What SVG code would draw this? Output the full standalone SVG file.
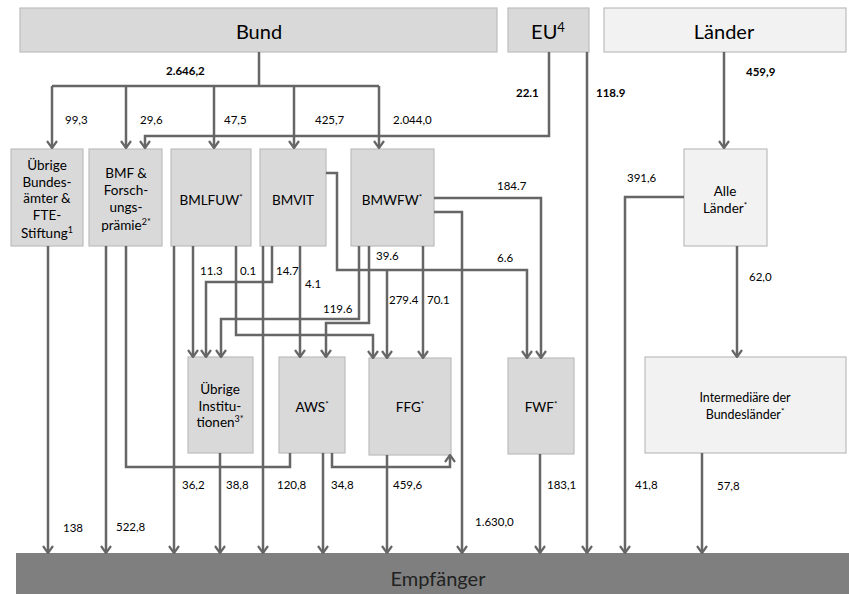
<svg xmlns="http://www.w3.org/2000/svg" width="849" height="594" viewBox="0 0 849 594">
<style>
.b{fill:#d9d9d9;stroke:#bdbdbd;stroke-width:1.2}
.l{fill:#f2f2f2;stroke:#bdbdbd;stroke-width:1.2}
.t{font-family:Lato,"Open Sans",sans-serif;fill:#000;text-anchor:middle}
.n{font-family:Lato,"Open Sans",sans-serif;font-size:11.5px;fill:#000}
.bold{font-weight:bold}
.c path{fill:none;stroke:#666;stroke-width:2.5}
.s{font-size:8px}
</style>
<defs>
<marker id="a" viewBox="-10 -7 11 14" markerWidth="11" markerHeight="14" refX="0" refY="0" orient="auto" markerUnits="userSpaceOnUse">
<path d="M-7,-5 L0,0 L-7,5" fill="none" stroke="#666" stroke-width="2.2"/>
</marker>
</defs>
<g id="bund"><rect class="b" x="20" y="8" width="477" height="44"/><text class="t" x="259" y="39" font-size="20">Bund</text></g>
<g id="eu"><rect class="b" x="508" y="8" width="81" height="44"/><text class="t" x="548" y="39" font-size="20">EU<tspan font-size="13" dy="-7">4</tspan></text></g>
<g id="laender"><rect class="l" x="604" y="8" width="242" height="44"/><text class="t" x="724" y="39" font-size="20">Länder</text></g>
<g id="uebrige-bundesaemter"><rect class="b" x="11" y="149" width="72" height="97"/><text class="t" font-size="13.5"><tspan x="47" y="170">Übrige</tspan><tspan x="47" y="187">Bundes-</tspan><tspan x="47" y="203">ämter &amp;</tspan><tspan x="47" y="220">FTE-</tspan><tspan x="47" y="238">Stiftung<tspan font-size="9" dy="-5">1</tspan></tspan></text></g>
<g id="bmf"><rect class="b" x="89" y="149" width="73" height="97"/><text class="t" font-size="13.5"><tspan x="126" y="178">BMF &amp;</tspan><tspan x="126" y="195">Forsch-</tspan><tspan x="126" y="212">ungs-</tspan><tspan x="126" y="230">prämie<tspan font-size="9" dy="-5">2*</tspan></tspan></text></g>
<g id="bmlfuw"><rect class="b" x="171" y="149" width="80" height="97"/><text class="t" x="211" y="205" font-size="13.5">BMLFUW<tspan class="s" dy="-5">*</tspan></text></g>
<g id="bmvit"><rect class="b" x="260" y="149" width="66" height="97"/><text class="t" x="293" y="205" font-size="13.5">BMVIT</text></g>
<g id="bmwfw"><rect class="b" x="351" y="149" width="83" height="97"/><text class="t" x="392" y="205" font-size="13.5">BMWFW<tspan class="s" dy="-5">*</tspan></text></g>
<g id="alle-laender"><rect class="l" x="684" y="149" width="83" height="97"/><text class="t" font-size="13.5"><tspan x="725" y="196">Alle</tspan><tspan x="725" y="213">Länder<tspan class="s" dy="-5">*</tspan></tspan></text></g>
<g id="uebrige-institutionen"><rect class="b" x="188" y="357" width="65" height="96"/><text class="t" font-size="13.5"><tspan x="220" y="394">Übrige</tspan><tspan x="220" y="411">Institu-</tspan><tspan x="220" y="427">tionen<tspan font-size="9" dy="-5">3*</tspan></tspan></text></g>
<g id="aws"><rect class="b" x="279" y="357" width="66" height="96"/><text class="t" x="312" y="412" font-size="13.5">AWS<tspan class="s" dy="-5">*</tspan></text></g>
<g id="ffg"><rect class="b" x="369" y="358" width="82" height="97"/><text class="t" x="410" y="412" font-size="13.5">FFG<tspan class="s" dy="-5">*</tspan></text></g>
<g id="fwf"><rect class="b" x="508" y="358" width="66" height="96"/><text class="t" x="541" y="412" font-size="13.5">FWF<tspan class="s" dy="-5">*</tspan></text></g>
<g id="intermediaere"><rect class="l" x="645" y="357" width="201" height="96"/><text class="t" font-size="12.5"><tspan x="745" y="402">Intermediäre der</tspan><tspan x="745" y="419">Bundesländer<tspan class="s" dy="-5">*</tspan></tspan></text></g>
<g id="empfaenger"><rect x="16" y="553" width="833" height="41" fill="#7f7f7f"/><text class="t" x="438" y="586" font-size="20" style="fill:#222">Empfänger</text></g>
<g id="connectors" class="c">
<path d="M259,52 V86"/>
<path d="M52,86 H379"/>
<path d="M52,86 V148" marker-end="url(#a)"/>
<path d="M126,86 V148" marker-end="url(#a)"/>
<path d="M214,86 V148" marker-end="url(#a)"/>
<path d="M294,86 V148" marker-end="url(#a)"/>
<path d="M379,86 V148" marker-end="url(#a)"/>
<path d="M549,52 V136 H145 V148" marker-end="url(#a)"/>
<path d="M587,52 V553" marker-end="url(#a)"/>
<path d="M724,52 V148" marker-end="url(#a)"/>
<path d="M48,246 V553" marker-end="url(#a)"/>
<path d="M106,246 V553" marker-end="url(#a)"/>
<path d="M126,246 V467 H290 V453"/>
<path d="M174,246 V553" marker-end="url(#a)"/>
<path d="M193,246 V357" marker-end="url(#a)"/>
<path d="M236,246 V335 H373 V358" marker-end="url(#a)"/>
<path d="M263,246 V553" marker-end="url(#a)"/>
<path d="M272,246 V282 H206 V357" marker-end="url(#a)"/>
<path d="M300,246 V357" marker-end="url(#a)"/>
<path d="M326,173 H337 V270 H527 V358" marker-end="url(#a)"/>
<path d="M387,270 V358" marker-end="url(#a)"/>
<path d="M359,246 V319 H221 V357" marker-end="url(#a)"/>
<path d="M369,246 V323 H326 V357" marker-end="url(#a)"/>
<path d="M423,246 V358" marker-end="url(#a)"/>
<path d="M434,198 H541 V358" marker-end="url(#a)"/>
<path d="M434,212 H462 V553" marker-end="url(#a)"/>
<path d="M220,453 V553" marker-end="url(#a)"/>
<path d="M323,453 V553" marker-end="url(#a)"/>
<path d="M332,453 V467 H450 V455" marker-end="url(#a)"/>
<path d="M387,455 V553" marker-end="url(#a)"/>
<path d="M540,454 V553" marker-end="url(#a)"/>
<path d="M684,197 H625 V553" marker-end="url(#a)"/>
<path d="M737,246 V357" marker-end="url(#a)"/>
<path d="M702,453 V553" marker-end="url(#a)"/>
</g>
<g id="labels">
<text class="n bold" x="166" y="75">2.646,2</text>
<text class="n" x="65" y="124">99,3</text>
<text class="n" x="140" y="124">29,6</text>
<text class="n" x="224" y="124">47,5</text>
<text class="n" x="315" y="124">425,7</text>
<text class="n" x="393" y="124">2.044,0</text>
<text class="n bold" x="516" y="97">22.1</text>
<text class="n bold" x="596" y="97">118.9</text>
<text class="n bold" x="746" y="76">459,9</text>
<text class="n" x="497" y="190">184.7</text>
<text class="n" x="627" y="182">391,6</text>
<text class="n" x="200" y="275">11.3</text>
<text class="n" x="240" y="275">0.1</text>
<text class="n" x="276" y="275">14.7</text>
<text class="n" x="305" y="288">4.1</text>
<text class="n" x="323" y="313">119.6</text>
<text class="n" x="376" y="260">39.6</text>
<text class="n" x="497" y="262">6.6</text>
<text class="n" x="389" y="304">279.4</text>
<text class="n" x="427" y="304">70.1</text>
<text class="n" x="749" y="281">62,0</text>
<text class="n" x="63" y="532">138</text>
<text class="n" x="116" y="531">522,8</text>
<text class="n" x="182" y="489">36,2</text>
<text class="n" x="226" y="489">38,8</text>
<text class="n" x="277" y="489">120,8</text>
<text class="n" x="331" y="489">34,8</text>
<text class="n" x="393" y="489">459,6</text>
<text class="n" x="475" y="526">1.630,0</text>
<text class="n" x="547" y="489">183,1</text>
<text class="n" x="635" y="489">41,8</text>
<text class="n" x="717" y="490">57,8</text>
</g>
</svg>
